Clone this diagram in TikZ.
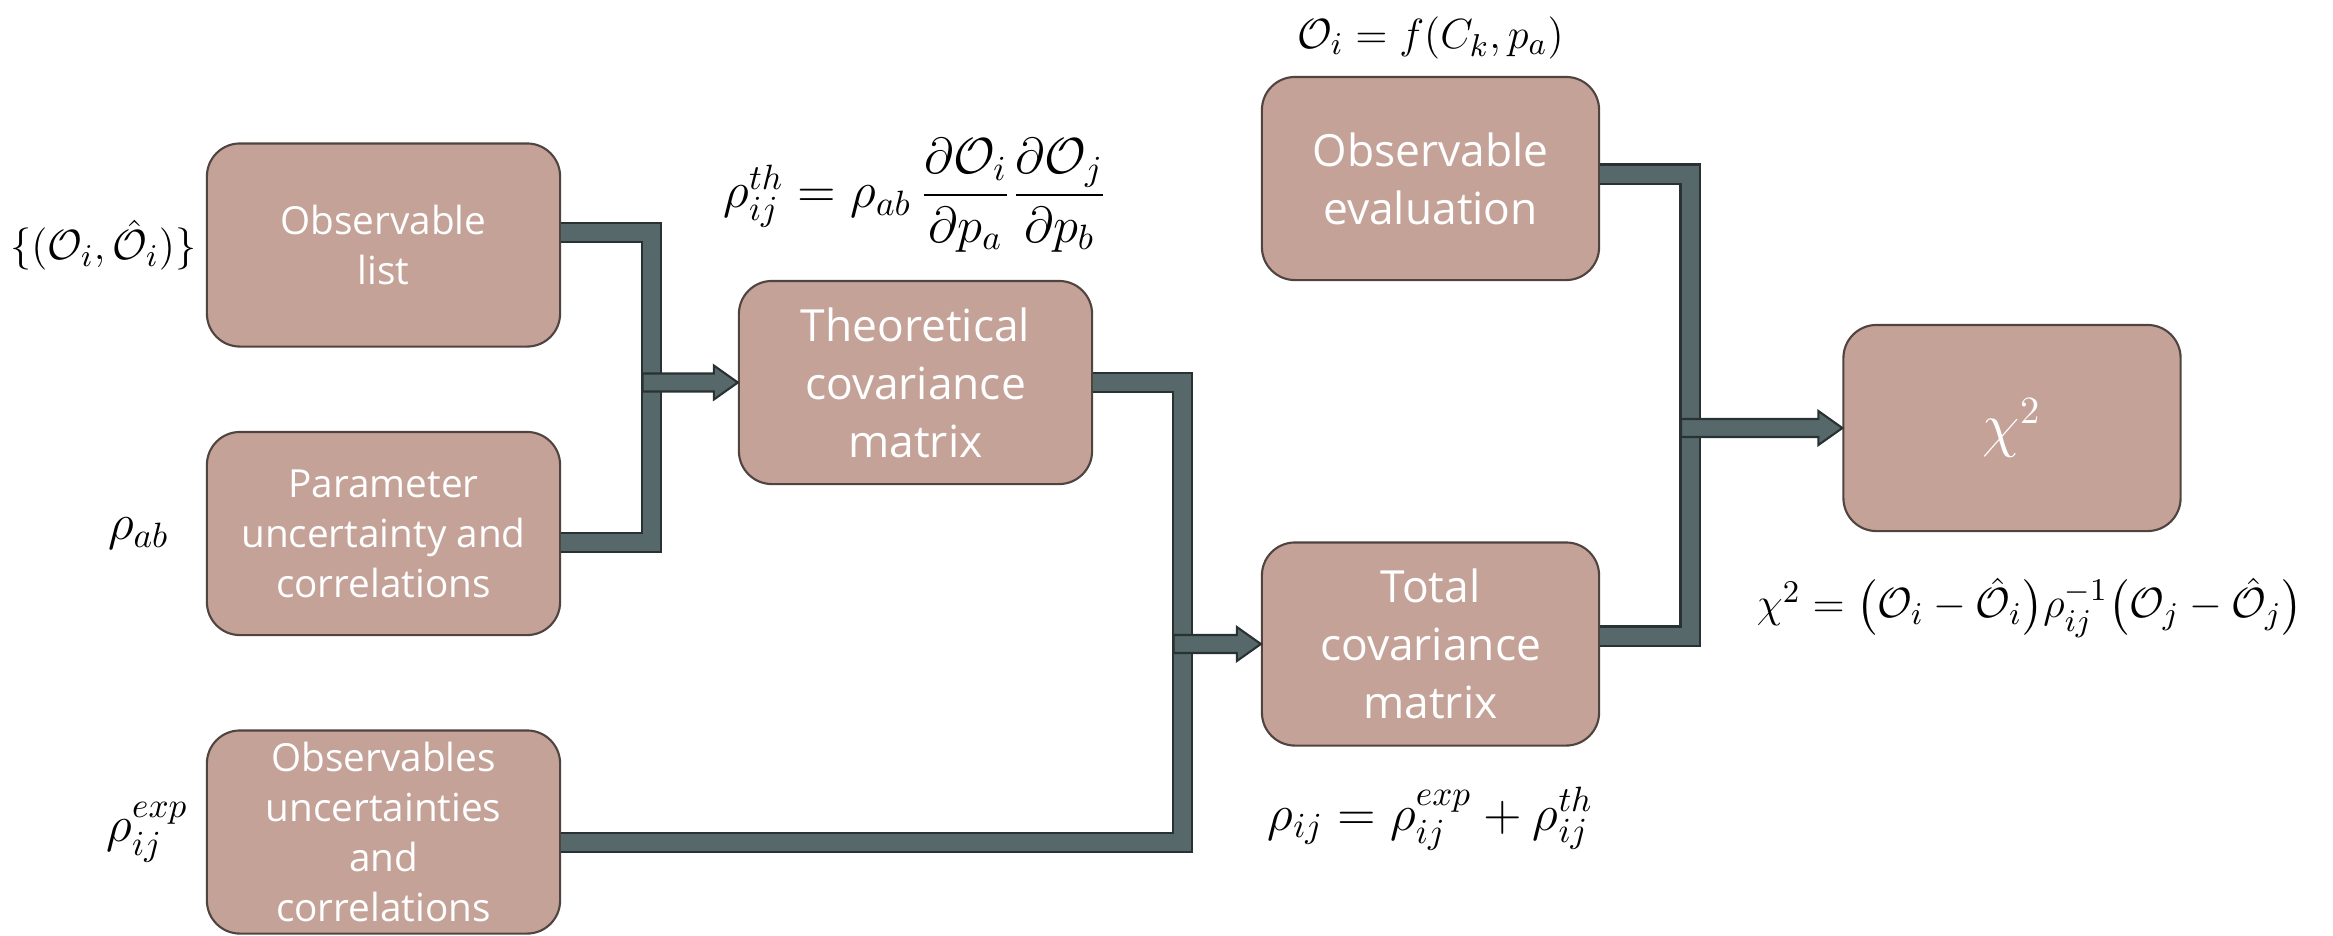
\documentclass[tikz,border=0pt]{standalone}
\usepackage{amsmath}
\usepackage{amssymb}
\usepackage{fontspec}
\newfontfamily\boxfont{Open Sans}
\usepackage{tikz}
\usetikzlibrary{positioning, calc}
\definecolor{rosado}{RGB}{196,162,152}
\definecolor{borda}{RGB}{80,68,64}
\definecolor{chumbo}{RGB}{86,104,106}
\definecolor{chumboesc}{RGB}{40,50,51}

\tikzset{
  caixa/.style={draw=borda, fill=rosado, line width=0.6pt, rounded corners=0.33cm,
    text=white, align=center, inner sep=2pt, minimum width=3.53cm, minimum height=2.03cm,
    font=\boxfont\fontsize{11}{14.2}\selectfont},
  caixag/.style={caixa, font=\boxfont\fontsize{12.6}{16.5}\selectfont},
  barra/.style={draw=chumboesc, line width=0.6pt, double=chumbo, double distance=0.17cm},
  seta/.style={draw=chumboesc, fill=chumbo, line width=0.6pt},
  formula/.style={inner sep=0pt},
  menor/.style={formula, font=\fontsize{12.8}{15}\selectfont}
}
% block arrow from the junction bar to a box
\newcommand{\barArrow}[2]{%
  \filldraw[seta] ($(#1 |- #2)+(-9,-9)$) -- ($(#2)+(-24,-9)$) -- ($(#2)+(-24,-17)$)
    -- (#2) -- ($(#2)+(-24,17)$) -- ($(#2)+(-24,9)$) -- ($(#1 |- #2)+(-9,9)$) -- cycle;}

\begin{document}
\begin{tikzpicture}[x=0.01cm, y=-0.01cm, font=\fontsize{14}{17}\selectfont]
  \useasboundingbox (0,0) rectangle (2333,935);

  % boxes
  \node[caixa] (lst) at (383.5,245) {Observable\\list};
  \node[caixa] (par) at (383.5,533.5) {Parameter\\uncertainty and\\correlations};
  \node[caixa] (exp) at (383.5,832) {Observables\\uncertainties\\and\\correlations};
  \node[caixag] (th) at (915.5,382.5) {Theoretical\\covariance\\matrix};
  \node[caixag, minimum width=3.37cm] (ev) at (1430.5,178.5) {Observable\\evaluation};
  \node[caixag, minimum width=3.37cm] (tot) at (1430.5,644) {Total\\covariance\\matrix};
  \node[caixag, minimum width=3.37cm, minimum height=2.06cm,
    font=\fontsize{16}{18}\selectfont] (chi) at (2012,428) {$\chi^2$};

  % formulas
  \node[menor, font=\fontsize{12.3}{15}\selectfont, left=0.09cm of lst] (lstf)
    {$\{(\mathcal{O}_i,\hat{\mathcal{O}}_i)\}$};
  \node[formula, left=0.36cm of par] (parf) {$\rho_{ab}$};
  \node[formula, left=0.17cm of exp] (expf) {$\rho_{ij}^{exp}$};
  \node[formula, above=0.27cm of th] (thf)
    {$\rho_{ij}^{th}=\rho_{ab}\,\dfrac{\partial\mathcal{O}_i}{\partial p_a}
      \dfrac{\partial\mathcal{O}_j}{\partial p_b}$};
  \node[menor, above=0.16cm of ev] (evf) {$\mathcal{O}_i=f(C_k,p_a)$};
  \node[formula, below=0.4cm of tot] (totf)
    {$\rho_{ij}=\rho_{ij}^{exp}+\rho_{ij}^{th}$};
  \node[menor, font=\fontsize{13.2}{16}\selectfont, anchor=north] (chif)
    at ($(chi.south)+(18,45)$)
    {$\chi^2=\big(\mathcal{O}_i-\hat{\mathcal{O}}_i\big)\rho_{ij}^{-1}
      \big(\mathcal{O}_j-\hat{\mathcal{O}}_j\big)$};

  % junctions
  \coordinate (j1) at (651.5,0);
  \coordinate (j2) at (1182.5,0);
  \coordinate (j3) at (1690,0);

  % connectors
  \draw[barra] ($(lst.east)+(0,-12.5)$) -| ($(j1 |- par.east)+(0,9)$)
    -- ($(par.east)+(0,9)$);
  \barArrow{j1}{th.west}
  \draw[barra] (th.east) -| ($(j2 |- exp.east)+(0,10.5)$)
    -- ($(exp.east)+(0,10.5)$);
  \barArrow{j2}{tot.west}
  \draw[barra] ($(ev.east)+(0,-4.5)$) -| ($(j3 |- tot.east)+(0,-8)$)
    -- ($(tot.east)+(0,-8)$);
  \barArrow{j3}{chi.west}
\end{tikzpicture}
\end{document}
